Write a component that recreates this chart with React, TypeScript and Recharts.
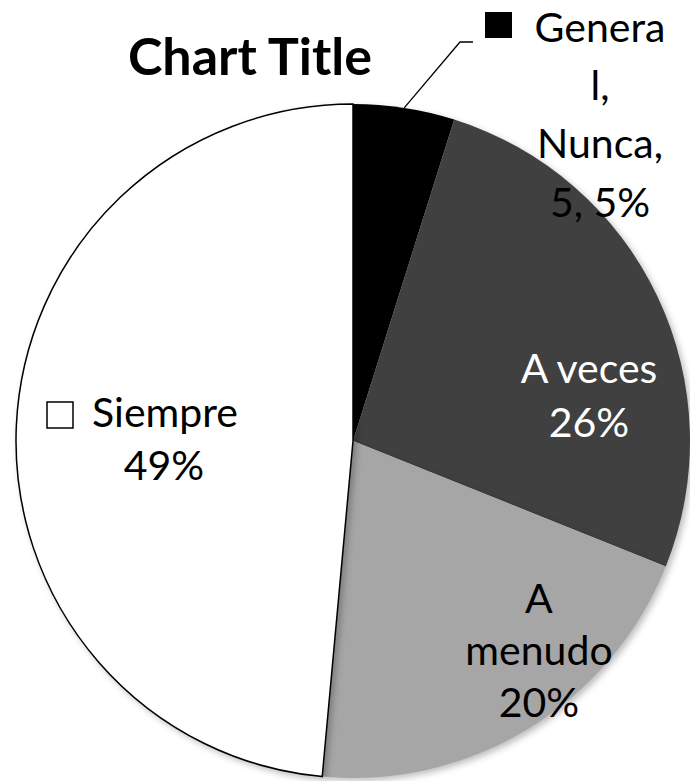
import { Cell, Pie, PieChart } from "recharts"

const seriesName = "General"
const categories = ["Nunca", "A veces", "A menudo", "Siempre"]
const values = [5, 27, 21, 50]
const colors = ["#000000", "#404040", "#a6a6a6", "#ffffff"]

const data = categories.map((name, i) => ({ name, value: values[i] }))

const FONT = "Lato, 'Liberation Sans', sans-serif"
const FS = 41

// label layout, offsets from the pie centre (Excel "best fit" placement)
const layout: Record<string, { dx: number; dys: number[] }> = {
  Nunca: { dx: 247, dys: [-399, -341, -283, -224] },
  "A veces": { dx: 236, dys: [-58, -4] },
  "A menudo": { dx: 186, dys: [172, 224, 276] },
  Siempre: { dx: -189, dys: [-14, 39] },
}

function renderLabel(props: any) {
  const { cx, cy, midAngle, outerRadius, percent, name, value, index } = props
  const pct = Math.round(percent * 100)
  const l = layout[name]
  const fill = index === 1 ? "#ffffff" : "#000000"

  if (name === "Nunca") {
    const rad = (Math.PI / 180) * midAngle
    const sx = cx + outerRadius * Math.cos(rad)
    const sy = cy - outerRadius * Math.sin(rad)
    const lines = [seriesName.slice(0, 6), seriesName.slice(6) + ",", name + ",", `${value}, ${pct}%`]
    return (
      <g>
        <polyline
          points={`${sx},${sy} ${cx + 107},${cy - 399} ${cx + 120},${cy - 399}`}
          fill="none"
          stroke="#000"
          strokeWidth={1.3}
        />
        <rect x={cx + 132} y={cy - 429} width={27} height={26} fill="#000" />
        {lines.map((t, i) => (
          <text key={i} x={cx + l.dx} y={cy + l.dys[i]} textAnchor="middle" fontFamily={FONT} fontSize={FS} fill={fill}>
            {t}
          </text>
        ))}
      </g>
    )
  }

  if (name === "Siempre") {
    return (
      <g>
        <rect x={cx - 306} y={cy - 39} width={26} height={26} fill="#fff" stroke="#000" strokeWidth={1.5} />
        <text x={cx - 261} y={cy + l.dys[0]} textAnchor="start" fontFamily={FONT} fontSize={FS} fill={fill}>
          {name}
        </text>
        <text x={cx + l.dx} y={cy + l.dys[1]} textAnchor="middle" fontFamily={FONT} fontSize={FS} fill={fill}>
          {`${pct}%`}
        </text>
      </g>
    )
  }

  const lines = name === "A menudo" ? ["A", "menudo", `${pct}%`] : [name, `${pct}%`]
  return (
    <g>
      {lines.map((t, i) => (
        <text key={i} x={cx + l.dx} y={cy + l.dys[i]} textAnchor="middle" fontFamily={FONT} fontSize={FS} fill={fill}>
          {t}
        </text>
      ))}
    </g>
  )
}

export default function App() {
  return (
    <div style={{ position: "absolute", left: 0, top: 0, width: 690, height: 781, background: "#fff" }}>
      <style>{`.recharts-pie-sector { filter: drop-shadow(3px 3px 3px rgba(0,0,0,0.25)); }`}</style>
      <PieChart width={690} height={781} margin={{ top: 0, right: 0, bottom: 0, left: 0 }}>
        <Pie
          data={data}
          dataKey="value"
          nameKey="name"
          cx={353}
          cy={441}
          outerRadius={337}
          startAngle={90}
          endAngle={-270}
          label={renderLabel}
          labelLine={false}
          isAnimationActive={false}
        >
          {data.map((d, i) => (
            <Cell
              key={d.name}
              fill={colors[i]}
              stroke={d.name === "Siempre" ? "#000" : "none"}
              strokeWidth={1.5}
            />
          ))}
        </Pie>
      </PieChart>
      <svg width={690} height={781} style={{ position: "absolute", left: 0, top: 0, pointerEvents: "none" }}>
        <text x={250} y={75} textAnchor="middle" fontFamily={FONT} fontWeight="bold" fontSize={52} fill="#000">
          Chart Title
        </text>
      </svg>
    </div>
  )
}
